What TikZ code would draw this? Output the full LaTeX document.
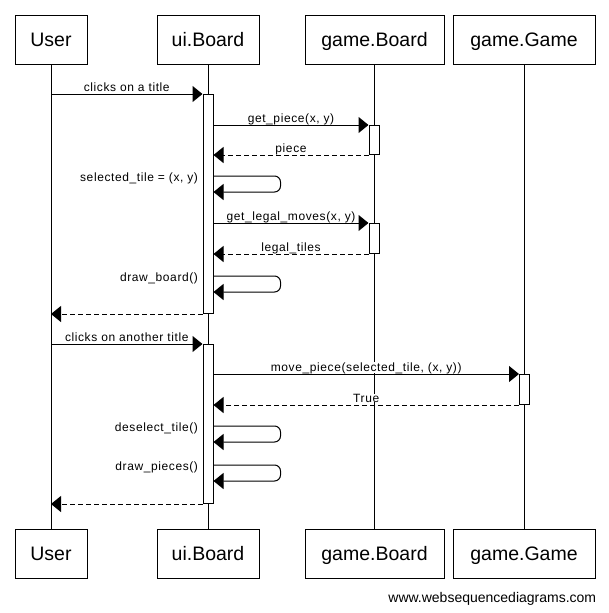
\documentclass[tikz,border=0pt]{standalone}
\usepackage{fontspec}
\setmainfont{Liberation Sans}
\newfontfamily\msgfont[LetterSpace=5]{Liberation Sans}
\usetikzlibrary{arrows.meta}
\tikzset{
    >={Triangle[length=10pt,width=16pt]},
    actor/.style={draw=black, rectangle, minimum height=49pt, text height=14pt, text depth=0pt,
        font=\fontsize{19.5}{22}\selectfont},
    act/.style={draw=black, rectangle, fill=white, minimum width=10pt, inner sep=0pt, anchor=north},
    msg/.style={->},
    ret/.style={->, dash pattern=on 5pt off 3pt},
    lbl/.style={font=\msgfont\fontsize{12}{14}\selectfont, fill=white, inner xsep=1pt, inner ysep=0pt},
    mlbl/.style={lbl, anchor=base, yshift=3pt},
    slbl/.style={lbl, anchor=base east, xshift=-14pt, yshift=-5pt},
}

\begin{document}
\begin{tikzpicture}[x=1pt, y=-1pt, line width=1pt]
    \useasboundingbox (0,0) rectangle (609,613);

    % participants, top and bottom, with their lifelines
    \foreach \n/\x/\w/\t in {U/51/72/User, UI/208/102/ui.Board, GB/374.5/139/game.Board, GG/524/142/game.Game} {
        \node[actor, minimum width=\w pt] (\n) at (\x,39.5) {\t};
        \node[actor, minimum width=\w pt] (\n-bot) at (\x,553.5) {\t};
        \draw (\n.south) -- (\n-bot.north);
    }

    % activations
    \node[act, minimum height=219pt] (a1) at (208,94) {};
    \node[act, minimum height=29pt] (b1) at (374,125) {};
    \node[act, minimum height=30pt] (b2) at (374,223) {};
    \node[act, minimum height=159pt] (a2) at (208,344) {};
    \node[act, minimum height=30pt] (c1) at (524.5,374) {};

    % first click
    \draw[msg] (U |- a1.north) -- node[mlbl] {clicks on a title} (a1.north west);
    \draw[msg] (a1.east |- b1.north) -- node[mlbl] {get\_piece(x, y)} (b1.north west);
    \draw[ret] (b1.south west) -- node[mlbl] {piece} (a1.east |- b1.south);
    \draw[msg, rounded corners=6pt] (a1.east |- 0,176) node[slbl] {selected\_tile = (x, y)}
        -- ++(67,0) -- ++(0,16) -- ++(-67,0);
    \draw[msg] (a1.east |- b2.north) -- node[mlbl] {get\_legal\_moves(x, y)} (b2.north west);
    \draw[ret] (b2.south west) -- node[mlbl] {legal\_tiles} (a1.east |- b2.south);
    \draw[msg, rounded corners=6pt] (a1.east |- 0,276) node[slbl] {draw\_board()}
        -- ++(67,0) -- ++(0,16) -- ++(-67,0);
    \draw[ret] (a1.south west) -- (U |- a1.south);

    % second click
    \draw[msg] (U |- a2.north) -- node[mlbl] {clicks on another title} (a2.north west);
    \draw[msg] (a2.east |- c1.north) -- node[mlbl] {move\_piece(selected\_tile, (x, y))} (c1.north west);
    \draw[ret] (c1.south west) -- node[mlbl] {True} (a2.east |- c1.south);
    \draw[msg, rounded corners=6pt] (a2.east |- 0,426) node[slbl] {deselect\_tile()}
        -- ++(67,0) -- ++(0,16) -- ++(-67,0);
    \draw[msg, rounded corners=6pt] (a2.east |- 0,465) node[slbl] {draw\_pieces()}
        -- ++(67,0) -- ++(0,16) -- ++(-67,0);
    \draw[ret] (a2.south west) -- (U |- a2.south);

    \node[anchor=base east, font=\fontsize{14}{16}\selectfont] (wsd) at (600,602) {www.websequencediagrams.com};
\end{tikzpicture}
\end{document}
